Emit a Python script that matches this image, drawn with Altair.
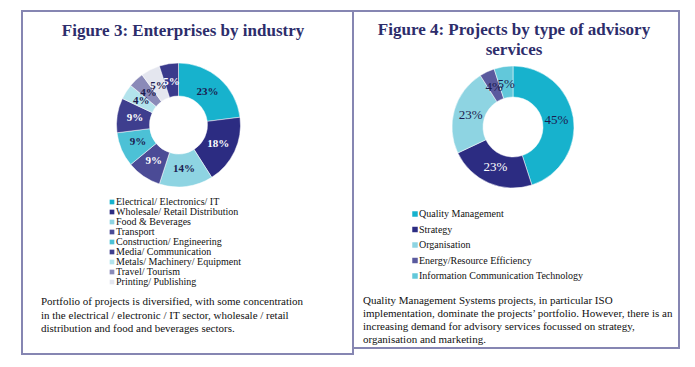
import altair as alt
import pandas as pd

# ---------------- data ----------------
ind_names = ["Electrical/ Electronics/ IT", "Wholesale/ Retail Distribution", "Food & Beverages",
             "Transport", "Construction/ Engineering", "Media/ Communication",
             "Metals/ Machinery/ Equipment", "Travel/ Tourism", "Printing/ Publishing", "Other"]
ind_values = [23, 18, 14, 9, 9, 9, 4, 4, 5, 5]
ind_legend_count = 9

adv_names = ["Quality Management", "Strategy", "Organisation",
             "Energy/Resource Efficiency", "Information Communication Technology"]
adv_values = [45, 23, 23, 4, 5]

title3 = "Figure 3: Enterprises by industry"
title4 = ["Figure 4: Projects by type of advisory", "services"]
caption3 = ["Portfolio of projects is diversified, with some concentration",
            "in the electrical / electronic / IT sector, wholesale / retail",
            "distribution and food and beverages sectors."]
caption4 = ["Quality Management Systems projects, in particular ISO",
            "implementation, dominate the projects\u2019 portfolio. However, there is an",
            "increasing demand for advisory services focussed on strategy,",
            "organisation and marketing."]

# ---------------- styles ----------------
CYAN = "#17b2cd"
NAVY = "#2c2c82"
ind_colors = [CYAN, NAVY, "#8ed4e2", "#4b4b96", "#4cc1d6", "#3e3e8e",
              "#b3e3ec", "#8a8ab8", "#e4e6ef", "#3a3a8c"]
ind_label_colors = ["#1c1c50", "#ffffff", "#1c1c50", "#ffffff", "#1c1c50", "#ffffff",
                    "#1c1c50", "#1c1c50", "#1c1c50", "#ffffff"]
adv_colors = [CYAN, NAVY, "#8ed4e2", "#5a5a9e", "#62c8da"]
adv_label_colors = ["#1c1c50", "#ffffff", "#1c1c50", "#1c1c50", "#1c1c50"]

FONT = "Liberation Serif"
TITLE_COLOR = "#2d2d6b"
BORDER = "#8686b2"
OFF = 8  # page margin


def P(v):
    return v - OFF


df3 = pd.DataFrame({"name": ind_names, "value": ind_values, "idx": range(len(ind_names)),
                    "lc": ind_label_colors, "label": [f"{v}%" for v in ind_values]})
df4 = pd.DataFrame({"name": adv_names, "value": adv_values, "idx": range(len(adv_names)),
                    "lc": adv_label_colors, "label": [f"{v}%" for v in adv_values]})

color_scale = alt.Scale(domain=ind_names + adv_names, range=ind_colors + adv_colors)


def donut(df, cx, cy, r_out, r_in, r_lab, lab_size, lab_weight):
    base = alt.Chart(df).encode(
        theta=alt.Theta("value:Q", stack=True),
        order=alt.Order("idx:Q"),
    )
    arc = base.mark_arc(outerRadius=r_out, innerRadius=r_in, stroke="white", strokeWidth=0.5).encode(
        x=alt.value(P(cx)), y=alt.value(P(cy)),
        color=alt.Color("name:N", scale=color_scale, legend=None),
    )
    txt = base.mark_text(radius=r_lab, font=FONT, fontSize=lab_size, fontWeight=lab_weight).encode(
        x=alt.value(P(cx)), y=alt.value(P(cy)),
        text="label:N",
        color=alt.Color("lc:N", scale=None),
    )
    return arc + txt


def texts(lines, x0, y0, dy, size, weight="normal", align="left", color="#111111"):
    d = pd.DataFrame({"t": lines, "x": [P(x0)] * len(lines),
                      "y": [P(y0 + i * dy) for i in range(len(lines))]})
    return alt.Chart(d).mark_text(font=FONT, fontSize=size, fontWeight=weight, align=align,
                                  baseline="middle", color=color).encode(
        x=alt.X("x:Q", scale=None, axis=None), y=alt.Y("y:Q", scale=None, axis=None), text="t:N")


def legend(names, colors, x0, y0, dy, size, msize):
    n = len(names)
    d = pd.DataFrame({"t": names, "c": colors[:n],
                      "x": [P(x0)] * n, "y": [P(y0 + i * dy) for i in range(n)],
                      "tx": [P(x0 + 4)] * n})
    sq = alt.Chart(d).mark_square(size=msize, opacity=1).encode(
        x=alt.X("x:Q", scale=None, axis=None), y=alt.Y("y:Q", scale=None, axis=None),
        color=alt.Color("c:N", scale=None))
    tx = alt.Chart(d).mark_text(font=FONT, fontSize=size, align="left", baseline="middle",
                                color="#111111").encode(
        x=alt.X("tx:Q", scale=None, axis=None), y=alt.Y("y:Q", scale=None, axis=None), text="t:N")
    return sq + tx


boxes = pd.DataFrame({"x": [P(22), P(353)], "x2": [P(353), P(679)],
                      "y": [P(11), P(11)], "y2": [P(354), P(348)]})
box_layer = alt.Chart(boxes).mark_rect(fill=None, stroke=BORDER, strokeWidth=2).encode(
    x=alt.X("x:Q", scale=None, axis=None), x2="x2:Q",
    y=alt.Y("y:Q", scale=None, axis=None), y2="y2:Q")

chart = alt.layer(
    box_layer,
    texts([title3], 183, 31, 0, 17, "bold", "center", TITLE_COLOR),
    texts(title4, 514, 30, 20, 17, "bold", "center", TITLE_COLOR),
    donut(df3, 178.5, 125, 62, 29, 44, 11, "bold"),
    donut(df4, 513, 127, 61, 30, 44, 13, "normal"),
    legend(ind_names[:ind_legend_count], ind_colors, 112, 202, 10, 10, 22),
    legend(adv_names, adv_colors, 415, 214, 15.5, 10, 30),
    texts(caption3, 41, 302, 13.5, 11),
    texts(caption4, 363, 301, 13.1, 11),
).properties(
    width=679, height=351, padding=0,
    autosize=alt.AutoSizeParams(type="fit", contains="padding"),
    background="white",
).configure_view(stroke=None)

chart.save("out.html", embed_options={"renderer": "svg", "actions": False})
